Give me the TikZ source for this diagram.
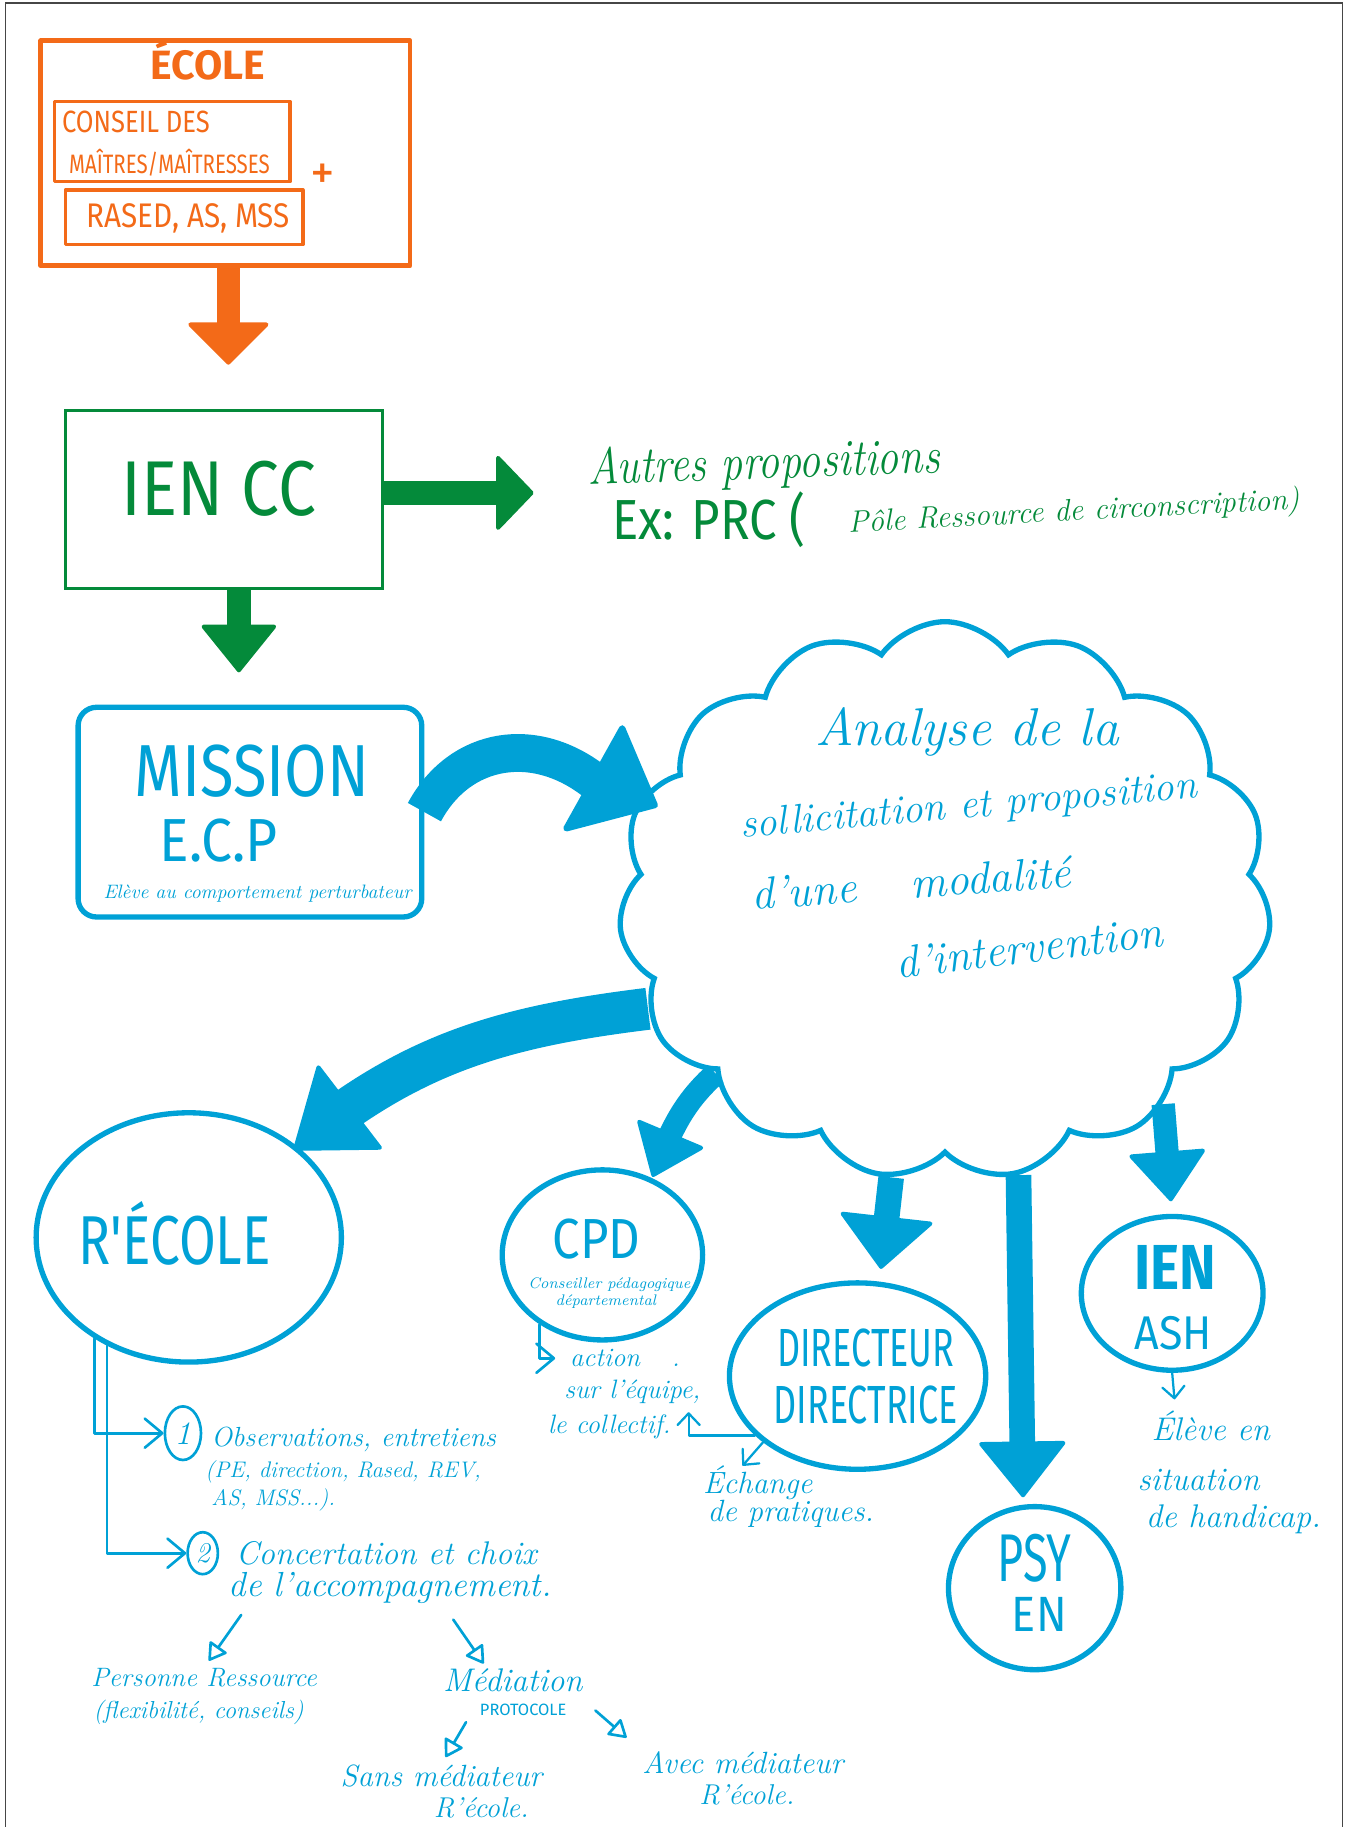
\documentclass[tikz,border=0pt]{standalone}
\usepackage{fontspec}
\newfontfamily\capsfont{Fira Sans}
\usetikzlibrary{arrows.meta,bending,shapes.geometric,shapes.symbols}

\definecolor{ecoleorange}{RGB}{243,106,24}
\definecolor{iengreen}{RGB}{4,138,58}
\definecolor{ecpblue}{RGB}{0,161,214}
\definecolor{framegray}{RGB}{70,70,70}

\newcommand{\fsz}[1]{\fontsize{#1}{#1}\selectfont}

\tikzset{
  orangebox/.style={draw=ecoleorange, line width=2.3pt, line join=round},
  greenbox/.style={draw=iengreen, line width=1.4pt},
  bluebox/.style={draw=ecpblue, line width=2.6pt, rounded corners=9pt},
  bluering/.style={draw=ecpblue, line width=2.6pt, ellipse},
  numring/.style={draw=ecpblue, line width=1.3pt, ellipse},
  fat/.style n args={3}{line width=#1, -{Triangle[length=#2, width=#3, line width=2pt, round]}},
  chev/.style={draw=ecpblue, line width=1.3pt, line cap=round, line join=round,
    -{Straight Barb[length=0.3cm, width=0.5cm, round]}},
  smallchev/.style={draw=ecpblue, line width=1.1pt, line cap=round, line join=round,
    -{Straight Barb[length=0.2cm, width=0.38cm, round]}},
  opentip/.style={draw=ecpblue, line width=1.3pt, line cap=round, line join=round,
    -{Triangle[open, length=0.32cm, width=0.38cm, round]}},
}

\begin{document}
\begin{tikzpicture}[x=0.02cm, y=-0.02cm, every node/.style={inner sep=0pt, text=ecpblue}]
\useasboundingbox (0,0) rectangle (1156,1568);
\draw[framegray, line width=0.6pt] (4.5,1568) -- (4.5,2.6) -- (1152,2.6) -- (1152,1568);

% ecole
\node[orangebox, minimum width=6.34cm, minimum height=3.86cm] (ecole) at (193.5,131.5) {};
\node[text=ecoleorange, font=\capsfont\bfseries\fsz{20}, anchor=base] (ecoletitle) at (178.5,68) {ÉCOLE};
\node[orangebox, line width=1.6pt, minimum width=4.04cm, minimum height=1.38cm] (conseil) at (148,121.5) {};
\node[text=ecoleorange, font=\capsfont\fsz{12.5}, anchor=base west, yscale=1.2] (conseiltop) at (53,114) {CONSEIL DES};
\node[text=ecoleorange, font=\capsfont\fsz{10}, anchor=base west, yscale=1.3] (conseilbot) at (59,149) {MAÎTRES/MAÎTRESSES};
\node[orangebox, line width=1.6pt, minimum width=4.08cm, minimum height=0.94cm] (rased) at (158,186.5) {};
\node[text=ecoleorange, font=\capsfont\fsz{14.5}, anchor=base, yscale=1.15] (rasedtext) at (161.5,195) {RASED, AS, MSS};
\node[text=ecoleorange, font=\capsfont\fsz{24}] (plus) at (277,152) {+};

\coordinate (ecoletip) at (196,313);
\draw[ecoleorange, fat={0.4cm}{0.74cm}{1.46cm}] (ecole.south -| ecoletip) -- (ecoletip);

% ien cc
\node[greenbox, minimum width=5.44cm, minimum height=3.06cm] (iencc) at (192,428.5) {};
\node[text=iengreen, font=\capsfont\fsz{33}, anchor=base, yscale=1.15] (iencctext) at (188,442) {IEN CC};

\coordinate (autrestip) at (458,423);
\draw[iengreen, fat={0.42cm}{0.66cm}{1.36cm}] (iencc.east |- autrestip) -- (autrestip);
\coordinate (ecptip) at (205,577);
\draw[iengreen, fat={0.4cm}{0.84cm}{1.34cm}] (iencc.south -| ecptip) -- (ecptip);

\node[text=iengreen, font=\itshape\fsz{21}, anchor=base west, rotate=2, yscale=1.2] (autres) at (505,416) {Autres propositions};
\node[text=iengreen, font=\capsfont\fsz{24}, anchor=base west, yscale=1.15] (exprc) at (525,463) {Ex: PRC (};
\node[text=iengreen, font=\itshape\fsz{15}, anchor=base west, rotate=3] (pole) at (728,457) {Pôle Ressource de circonscription)};

% mission
\node[bluebox, minimum width=5.9cm, minimum height=3.6cm] (mission) at (214.5,697) {};
\node[font=\capsfont\fsz{30}, anchor=base, yscale=1.2] (missiontext) at (216,684) {MISSION};
\node[font=\capsfont\fsz{27}, anchor=base, yscale=1.1] (ecp) at (187.5,739) {E.C.P};
\node[font=\itshape\fsz{9.5}, anchor=base] (ecpdef) at (221,771) {Elève au comportement perturbateur};

% cloud
\node[cloud, cloud puffs=15, cloud puff arc=110, aspect=1.17, draw=ecpblue, line width=2.6pt,
  minimum width=11.2cm, minimum height=9.58cm] (cloud) at (811,773) {};
\node[font=\itshape\fsz{26}, anchor=base] (analyse1) at (830,640) {Analyse de la};
\node[font=\itshape\fsz{20}, anchor=base, rotate=5] (analyse2) at (832,702) {sollicitation et proposition};
\node[font=\itshape\fsz{22}, anchor=base, rotate=4] (analyse3) at (783,771) {d'une\hspace{1.2em}modalité};
\node[font=\itshape\fsz{22}, anchor=base, rotate=7] (analyse4) at (885,826) {d'intervention};

\coordinate (bandend) at (512,672);
\coordinate (headleft) at (486,711);
\coordinate (headright) at (562,691);
\coordinate (analysetip) at (534,625);
\draw[ecpblue, line width=0.65cm] (mission.east) .. controls (395,640) and (460,630) .. (bandend);
\filldraw[ecpblue, line width=3pt, line join=round] (headleft) -- (headright) -- (analysetip) -- cycle;

% circles
\node[bluering, minimum width=5.24cm, minimum height=4.28cm] (recole) at (162,1062) {};
\node[font=\capsfont\fsz{26}, anchor=base, yscale=1.3] (recoletext) at (150,1085) {R'ÉCOLE};

\node[bluering, minimum width=3.44cm, minimum height=2.92cm] (cpd) at (517,1077) {};
\node[font=\capsfont\fsz{24}, anchor=base, yscale=1.15] (cpdtext) at (512,1080) {CPD};
\node[font=\itshape\fsz{7.5}, anchor=base] (cpddef1) at (523,1106) {Conseiller pédagogique};
\node[font=\itshape\fsz{7.5}, anchor=base] (cpddef2) at (520,1120) {départemental};

\node[bluering, minimum width=4.4cm, minimum height=3.2cm] (directeur) at (736,1181) {};
\node[font=\capsfont\fsz{17.5}, anchor=base, yscale=1.5] (directeur1) at (743,1173) {DIRECTEUR};
\node[font=\capsfont\fsz{17.5}, anchor=base, yscale=1.5] (directeur2) at (743,1222) {DIRECTRICE};

\node[bluering, minimum width=2.96cm, minimum height=2.8cm] (psy) at (888,1363) {};
\node[font=\capsfont\fsz{22}, anchor=base, yscale=1.5] (psytext) at (888,1357) {PSY};
\node[font=\capsfont\fsz{22}, anchor=base, yscale=1.1] (entext) at (892,1400) {EN};

\node[bluering, minimum width=3.12cm, minimum height=2.64cm] (ienash) at (1006,1110) {};
\node[font=\capsfont\bfseries\fsz{27}, anchor=base, yscale=1.15] (ientext) at (1009,1107) {IEN};
\node[font=\capsfont\fsz{21}, anchor=base, yscale=1.1] (ashtext) at (1007,1158) {ASH};

% cloud arrows
\coordinate (recoletip) at (252,987);
\draw[ecpblue, fat={0.72cm}{1.26cm}{1.86cm}] (cloud.200) to[out=187, in=40] (recoletip);
\coordinate (cpdtip) at (560,1010);
\draw[ecpblue, fat={0.4cm}{0.84cm}{1.28cm}] (cloud.217) to[out=222, in=68] (cpdtip);
\coordinate (directeurtip) at (756,1089);
\draw[ecpblue, fat={0.44cm}{0.92cm}{1.66cm}] (cloud.259) -- (directeurtip);
\coordinate (psytip) at (878,1285);
\draw[ecpblue, fat={0.44cm}{0.98cm}{1.54cm}] (cloud.285) -- (psytip);
\coordinate (ienashtip) at (1005,1031);
\draw[ecpblue, fat={0.4cm}{0.88cm}{1.36cm}] (cloud.317) -- (ienashtip);

% r'ecole list
\node[numring, minimum width=0.62cm, minimum height=0.92cm, font=\itshape\fsz{16}] (one) at (157,1230) {1};
\node[font=\itshape\fsz{13.5}, anchor=base west] (obs1) at (181,1241) {Observations, entretiens};
\node[font=\itshape\fsz{11}, anchor=base west] (obs2) at (176,1268) {(PE, direction, Rased, REV,};
\node[font=\itshape\fsz{11}, anchor=base west] (obs3) at (181,1292) {AS, MSS...).};
\node[numring, minimum width=0.52cm, minimum height=0.72cm, font=\itshape\fsz{14}] (two) at (174,1333) {2};
\node[font=\itshape\fsz{16}, anchor=base west] (conc1) at (202,1343) {Concertation et choix};
\node[font=\itshape\fsz{17}, anchor=base west] (conc2) at (196,1370) {de l'accompagnement.};
\draw[chev] (recole.227) |- (one.west);
\draw[chev] (recole.233) |- (two.west);

\node[font=\itshape\fsz{13}, anchor=base west] (personne) at (78,1447) {Personne Ressource};
\node[font=\itshape\fsz{12}, anchor=base west] (flexi) at (80,1475) {(flexibilité, conseils)};
\node[font=\itshape\fsz{16}, anchor=base west] (mediation) at (380,1452) {Médiation};
\node[font=\capsfont\fsz{8}, anchor=base] (protocole) at (449,1472) {PROTOCOLE};
\node[font=\itshape\fsz{15}, anchor=base west] (sans) at (292,1533) {Sans médiateur};
\node[font=\itshape\fsz{14}, anchor=base] (sansecole) at (413,1560) {R'école.};
\node[font=\itshape\fsz{15}, anchor=base west] (avec) at (551,1522) {Avec médiateur};
\node[font=\itshape\fsz{14}, anchor=base] (avececole) at (641,1549) {R'école.};

\coordinate (persstart) at (207,1386);
\coordinate (medstart) at (389,1390);
\coordinate (sansstart) at (400,1478);
\coordinate (avecstart) at (511,1468);
\draw[opentip, shorten >=4pt] (persstart) -- (personne.north);
\draw[opentip, shorten >=3pt] (medstart) -- ([xshift=-0.44cm]mediation.north);
\draw[opentip, shorten >=4pt] (sansstart) -- (sans.north);
\draw[opentip, shorten >=10pt] (avecstart) -- (avec.north west);

% cpd, directeur, ien ash notes
\node[font=\itshape\fsz{13}, anchor=base west] (action) at (489,1173) {action\hspace{1.2em}.};
\node[font=\itshape\fsz{13}, anchor=base west] (equipe) at (484,1200) {sur l'équipe,};
\node[font=\itshape\fsz{13}, anchor=base west] (collectif) at (470,1230) {le collectif.};
\draw[chev, shorten >=0.25cm] (cpd.228) |- (action.west);

\coordinate (collectifmark) at (591,1212);
\draw[smallchev] (directeur.210) -| (collectifmark);
\node[font=\itshape\fsz{15}, anchor=base west] (echange) at (603,1282) {Échange};
\node[font=\itshape\fsz{15}, anchor=base west] (pratiques) at (607,1306) {de pratiques.};
\draw[smallchev] (directeur.215) -- ([xshift=-0.26cm]echange.north);

\coordinate (elevemark) at (1008,1201);
\draw[smallchev] (ienash.south) -- (elevemark);
\node[font=\itshape\fsz{16}, anchor=base west] (eleve1) at (988,1236) {Élève en};
\node[font=\itshape\fsz{16}, anchor=base west] (eleve2) at (976,1279) {situation};
\node[font=\itshape\fsz{16}, anchor=base west] (eleve3) at (983,1311) {de handicap.};
\end{tikzpicture}
\end{document}
